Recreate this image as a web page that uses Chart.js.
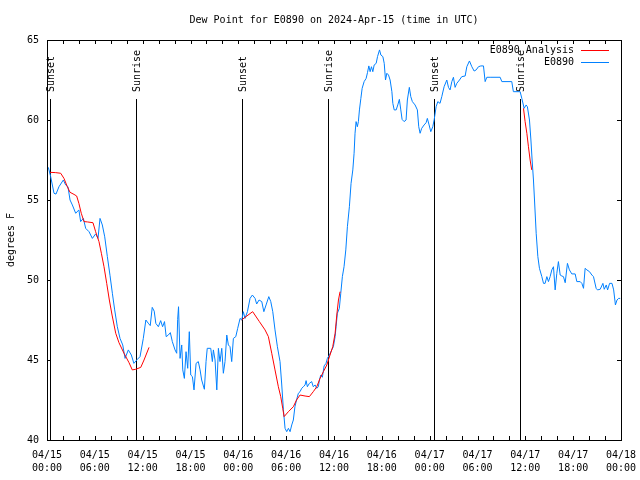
<!DOCTYPE html>
<html>
<head>
<meta charset="utf-8">
<script src="https://cdn.jsdelivr.net/npm/chart.js@4"></script>
<style>
  html, body { margin: 0; padding: 0; background: #fff; }
  canvas { display: block; }
</style>
</head>
<body>
<canvas id="dewChart" width="640" height="480"></canvas>
<script>
// hours since 04/15 00:00 UTC
const obsHours = [
  0.17, 0.46, 0.88, 1.13, 1.5, 2.05, 2.34, 2.63, 2.89, 3.18, 3.6, 4.0, 4.22, 4.56, 4.85, 5.27, 5.69, 6.1, 6.4, 6.65,
  6.94, 7.24, 7.57, 7.9, 8.2, 8.49, 8.82, 9.16, 9.5, 9.79, 10.2, 10.58, 10.9, 11.33, 11.67, 12.08, 12.4, 12.7, 12.95, 13.2,
  13.45, 13.65, 13.97, 14.26, 14.5, 14.74, 14.95, 15.22, 15.47, 15.72, 16.06, 16.27, 16.39, 16.5, 16.69, 16.9, 17.03, 17.23, 17.44, 17.65,
  17.85, 18.03, 18.24, 18.44, 18.7, 18.98, 19.2, 19.4, 19.74, 19.95, 20.1, 20.54, 20.74, 20.87, 21.08, 21.3, 21.5, 21.7, 21.92, 22.12,
  22.33, 22.55, 22.75, 22.96, 23.17, 23.38, 23.68, 23.92, 24.22, 24.43, 24.63, 24.84, 25.14, 25.47, 25.76, 26.1, 26.3, 26.6, 26.94, 27.2,
  27.48, 27.82, 28.07, 28.32, 28.6, 28.9, 29.23, 29.44, 29.65, 29.86, 30.07, 30.28, 30.49, 30.7, 30.9, 31.1, 31.3, 31.53, 31.74, 31.95,
  32.16, 32.37, 32.5, 32.66, 32.91, 33.2, 33.4, 33.63, 33.84, 34.04, 34.17, 34.34, 34.54, 34.76, 35.0, 35.17, 35.42, 35.72, 35.92, 36.14,
  36.26, 36.42, 36.67, 36.85, 37.05, 37.26, 37.48, 37.68, 37.93, 38.14, 38.36, 38.52, 38.64, 38.77, 38.93, 39.06, 39.19, 39.37, 39.53, 39.78,
  40.03, 40.2, 40.37, 40.53, 40.7, 40.87, 41.04, 41.29, 41.46, 41.71, 41.88, 42.13, 42.3, 42.46, 42.63, 42.84, 43.04, 43.26, 43.38, 43.55,
  43.8, 44.0, 44.2, 44.38, 44.54, 44.79, 45.04, 45.2, 45.45, 45.63, 45.83, 46.17, 46.46, 46.63, 46.8, 47.0, 47.3, 47.55, 47.71, 47.93,
  48.14, 48.39, 48.56, 48.81, 49.02, 49.3, 49.52, 49.81, 50.15, 50.36, 50.56, 50.78, 50.98, 51.19, 51.4, 51.74, 52.03, 52.45, 52.66, 52.99,
  53.29, 53.58, 53.83, 54.12, 54.42, 54.75, 54.96, 55.17, 55.58, 56.84, 57.05, 58.3, 58.5, 59.35, 59.56, 59.85, 60.1, 60.26, 60.52, 60.7,
  60.85, 61.02, 61.15, 61.36, 61.57, 61.77, 62.07, 62.28, 62.48, 62.7, 62.9, 63.11, 63.32, 63.53, 63.74, 63.95, 64.15, 64.37, 64.58, 64.78,
  65.0, 65.28, 65.53, 65.83, 66.25, 66.46, 66.88, 67.09, 67.3, 67.5, 67.72, 68.05, 68.35, 68.55, 68.88, 69.05, 69.39, 69.73, 69.9, 70.15,
  70.32, 70.57, 70.87, 71.08, 71.3, 71.5, 71.7, 71.9
];
const obsDew = [
  57.04, 56.46, 55.42, 55.37, 55.83, 56.25, 55.94, 55.83, 55.0, 54.69, 54.17, 54.38, 53.65, 53.85, 53.23, 53.02, 52.6, 52.88, 52.6, 53.85,
  53.44, 52.7, 51.46, 50.3, 49.17, 48.13, 47.08, 46.35, 45.94, 45.1, 45.63, 45.31, 44.79, 45.04, 45.21, 46.35, 47.5, 47.3, 47.15, 48.29,
  48.05, 47.29, 47.08, 47.46, 47.08, 47.4, 46.46, 46.56, 46.71, 46.15, 45.63, 45.42, 47.54, 48.33, 45.1, 45.94, 44.38, 43.85, 45.52, 44.48,
  46.77, 44.06, 43.96, 43.13, 44.79, 44.9, 44.38, 43.75, 43.17, 44.9, 45.73, 45.73, 44.9, 45.63, 45.0, 43.13, 45.73, 44.9, 45.73, 44.17,
  44.9, 46.56, 45.94, 45.83, 44.9, 46.35, 46.46, 46.98, 47.6, 47.5, 48.02, 47.6, 48.02, 48.85, 49.06, 48.85, 48.5, 48.75, 48.65, 48.02,
  48.44, 48.96, 48.65, 48.02, 46.88, 45.83, 44.9, 43.5, 41.9, 40.73, 40.52, 40.73, 40.52, 40.94, 41.25, 42.08, 42.5, 42.92, 43.02, 43.23,
  43.33, 43.44, 43.71, 43.33, 43.54, 43.65, 43.33, 43.44, 43.23, 43.33, 43.75, 44.06, 43.92, 44.63, 44.79, 45.1, 45.31, 45.63, 45.83, 46.46,
  47.08, 47.92, 48.23, 49.17, 50.21, 50.83, 51.88, 53.33, 54.58, 56.04, 56.88, 57.92, 59.17, 59.9, 59.58, 59.9, 60.63, 61.35, 61.98, 62.4,
  62.6, 62.96, 63.38, 63.02, 63.33, 63.02, 63.44, 63.54, 63.96, 64.38, 64.06, 63.96, 63.54, 62.5, 62.92, 62.81, 62.5, 61.77, 61.04, 60.63,
  60.63, 60.94, 61.29, 60.63, 60.04, 59.9, 60.0, 61.25, 62.04, 61.46, 61.15, 60.94, 60.63, 59.58, 59.17, 59.48, 59.69, 59.83, 60.1, 59.69,
  59.27, 59.58, 60.0, 60.83, 61.15, 61.04, 61.46, 62.08, 62.5, 62.04, 61.88, 62.4, 62.67, 62.04, 62.29, 62.5, 62.71, 62.75, 63.33, 63.69,
  63.33, 63.06, 63.13, 63.33, 63.38, 63.38, 62.4, 62.67, 62.67, 62.67, 62.4, 62.4, 61.77, 61.77, 61.35, 60.73, 60.94, 60.83, 60.0, 58.75,
  57.5, 56.25, 55.0, 52.92, 51.46, 50.73, 50.21, 49.79, 49.79, 50.21, 49.9, 50.21, 50.63, 50.83, 49.38, 50.42, 51.15, 50.31, 50.25, 50.21,
  49.83, 51.04, 50.63, 50.38, 50.38, 49.9, 49.9, 49.79, 49.48, 50.73, 50.63, 50.52, 50.31, 50.21, 49.48, 49.38, 49.42, 49.79, 49.42, 49.69,
  49.38, 49.79, 49.79, 49.38, 48.44, 48.75, 48.85, 48.85
];

// analysis series, null = no analysis (gap)
const anaHours = [
  0.38, 1.09, 1.72, 2.13, 2.55, 2.89, 3.39, 3.72, 4.0, 4.3, 4.64, 5.06, 5.77, 6.1, 6.52, 6.82, 7.15, 7.49, 7.82, 8.16,
  8.62, 9.03, 9.66, 10.29, 10.7, 11.13, 11.76, 12.17, 12.8, 18.0,
  24.43, 24.84, 25.8, 26.64, 27.35, 27.77, 28.19, 28.6, 29.02, 29.32, 29.57, 29.74, 30.28, 30.9, 31.3, 31.74, 32.37, 32.91, 33.4, 33.84,
  34.25, 34.67, 35.1, 35.5, 35.84, 36.14, 36.35, 36.56, 36.76, 48.0,
  59.77, 59.97, 60.19, 60.39, 60.6, 60.8
];
const anaDew = [
  56.73, 56.71, 56.67, 56.35, 55.83, 55.48, 55.35, 55.25, 54.79, 54.17, 53.65, 53.63, 53.58, 53.02, 52.4, 51.67, 50.83, 49.79, 48.75, 47.81,
  46.67, 46.08, 45.42, 44.83, 44.38, 44.42, 44.54, 45.0, 45.79, null,
  47.5, 47.67, 48.02, 47.4, 46.88, 46.46, 45.42, 44.38, 43.33, 42.71, 41.98, 41.46, 41.77, 42.08, 42.5, 42.81, 42.75, 42.71, 43.02, 43.33,
  43.85, 44.27, 44.69, 45.31, 45.83, 46.67, 47.81, 48.75, 49.27, null,
  60.73, 59.9, 59.17, 58.33, 57.5, 56.88
];

const sunHours = [0.42, 11.2, 24.5, 35.3, 48.5, 59.3];
const sunLabels = ['Sunset', 'Sunrise', 'Sunset', 'Sunrise', 'Sunset', 'Sunrise'];
const sunLineTop = 61.3;

const yTicks = [40, 45, 50, 55, 60, 65];
const startDay = 15;

const FONT = "'DejaVu Sans Mono', monospace";
Chart.defaults.font.family = FONT;
Chart.defaults.font.size = 10;
Chart.defaults.color = '#000';

function hourLabel(v) {
  const day = startDay + Math.floor(v / 24);
  const hh = v % 24;
  return ['04/' + String(day).padStart(2, '0'), String(hh).padStart(2, '0') + ':00'];
}

// frame, inward ticks, sun lines, title, legend
const decorations = {
  id: 'decorations',
  beforeDatasetsDraw(chart) {
    const { ctx, chartArea: a, scales: { x, y } } = chart;
    ctx.save();
    ctx.strokeStyle = '#000';
    ctx.lineWidth = 1;
    ctx.fillStyle = '#000';
    ctx.font = '10px ' + FONT;
    const yTop = Math.round(y.getPixelForValue(sunLineTop));
    sunHours.forEach(function(h, i) {
      const px = Math.round(x.getPixelForValue(h)) + 0.5;
      ctx.beginPath();
      ctx.moveTo(px, yTop);
      ctx.lineTo(px, a.bottom);
      ctx.stroke();
      ctx.save();
      ctx.translate(px + 1, yTop - 7);
      ctx.rotate(-Math.PI / 2);
      ctx.textAlign = 'left';
      ctx.textBaseline = 'middle';
      ctx.fillText(sunLabels[i], 0, 0);
      ctx.restore();
    });
    ctx.restore();
  },
  afterDraw(chart) {
    const { ctx, chartArea: a, scales: { x, y } } = chart;
    ctx.save();
    ctx.strokeStyle = '#000';
    ctx.lineWidth = 1;
    ctx.strokeRect(Math.round(a.left) + 0.5, Math.round(a.top) + 0.5,
      Math.round(a.right - a.left), Math.round(a.bottom - a.top));
    ctx.beginPath();
    x.ticks.forEach(function(t) {
      const px = Math.round(x.getPixelForValue(t.value)) + 0.5;
      ctx.moveTo(px, a.bottom); ctx.lineTo(px, a.bottom - 4);
      ctx.moveTo(px, a.top); ctx.lineTo(px, a.top + 4);
    });
    yTicks.forEach(function(v) {
      const py = Math.round(y.getPixelForValue(v)) + 0.5;
      ctx.moveTo(a.left, py); ctx.lineTo(a.left + 4, py);
      ctx.moveTo(a.right, py); ctx.lineTo(a.right - 4, py);
    });
    ctx.stroke();

    // title
    ctx.fillStyle = '#000';
    ctx.font = '10px ' + FONT;
    ctx.textAlign = 'center';
    ctx.textBaseline = 'middle';
    ctx.fillText('Dew Point for E0890 on 2024-Apr-15 (time in UTC)', (a.left + a.right) / 2, 20);

    // legend
    ctx.textAlign = 'right';
    chart.data.datasets.forEach(function(ds, i) {
      const ly = a.top + 10 + i * 12;
      ctx.fillStyle = '#000';
      ctx.fillText(ds.label, a.right - 47, ly);
      ctx.strokeStyle = ds.borderColor;
      ctx.beginPath();
      ctx.moveTo(a.right - 40, Math.round(ly) + 0.5);
      ctx.lineTo(a.right - 12, Math.round(ly) + 0.5);
      ctx.stroke();
    });
    ctx.restore();
  }
};

document.addEventListener('DOMContentLoaded', function() {
  const ctx = document.getElementById('dewChart').getContext('2d');
  new Chart(ctx, {
    type: 'line',
    data: {
      datasets: [{
        label: 'E0890 Analysis',
        data: anaHours.map(function(h, i) { return { x: h, y: anaDew[i] }; }),
        borderColor: '#ff0000',
        borderWidth: 1,
        pointRadius: 0,
        tension: 0,
        spanGaps: false,
        order: 0
      }, {
        label: 'E0890',
        data: obsHours.map(function(h, i) { return { x: h, y: obsDew[i] }; }),
        borderColor: '#0080ff',
        borderWidth: 1,
        pointRadius: 0,
        tension: 0,
        order: 1
      }]
    },
    options: {
      responsive: false,
      animation: false,
      layout: { padding: { top: 40, right: 19, left: 0, bottom: 0 } },
      plugins: {
        legend: { display: false },
        title: { display: false },
        tooltip: { enabled: false }
      },
      scales: {
        x: {
          type: 'linear',
          min: 0,
          max: 72,
          grid: { display: false, drawTicks: false },
          border: { display: false },
          ticks: {
            stepSize: 2,
            autoSkip: false,
            maxRotation: 0,
            padding: 9,
            font: { size: 10, lineHeight: 1.3 },
            callback: function(v) { return v % 6 === 0 ? hourLabel(v) : ''; }
          },
          afterFit: function(s) { s.height = 40; s.paddingLeft = 0; s.paddingRight = 0; }
        },
        y: {
          min: 40,
          max: 65,
          grid: { display: false, drawTicks: false },
          border: { display: false },
          ticks: { stepSize: 5, padding: 8 },
          title: { display: true, text: 'degrees F', padding: { top: 5, bottom: 0 } },
          afterFit: function(s) { s.width = 47; s.paddingTop = 0; s.paddingBottom = 0; }
        }
      }
    },
    plugins: [decorations]
  });
});
</script>
</body>
</html>
